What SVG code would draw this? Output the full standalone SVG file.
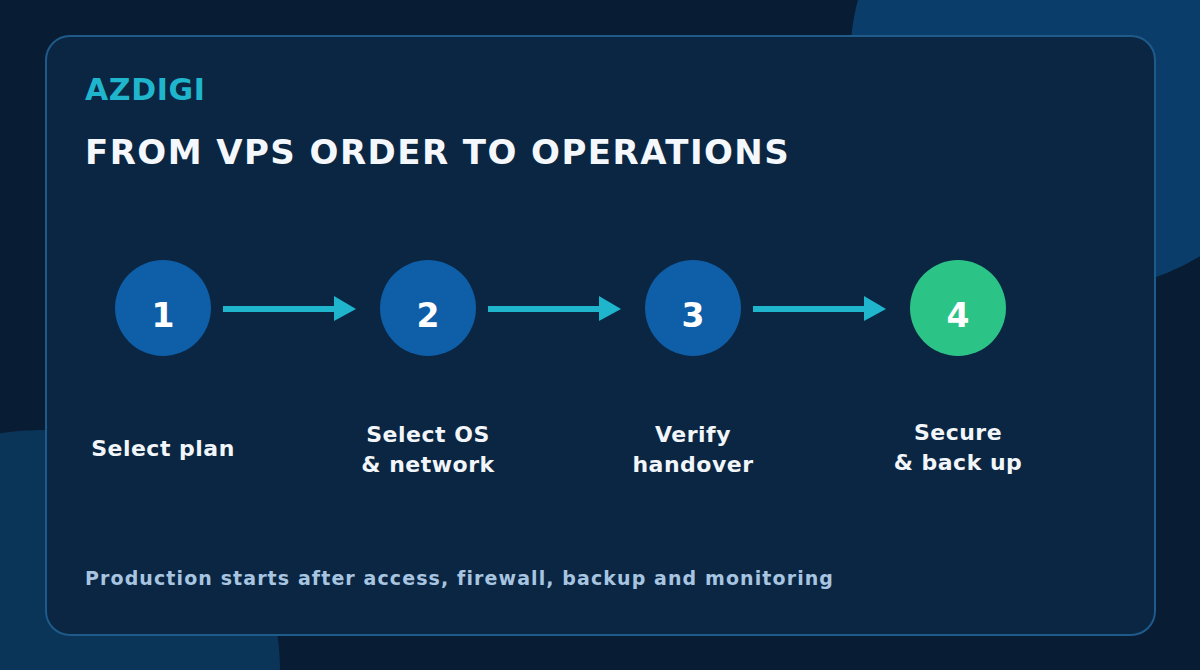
<svg xmlns="http://www.w3.org/2000/svg" width="1200" height="670" viewBox="0 0 1200 670">
  <style>
    .t { font-family: "DejaVu Sans", "Liberation Sans", sans-serif; font-weight: bold; }
    .brand { font-size: 30px; fill: #1fb5cc; letter-spacing: 0.6px; }
    .title { font-size: 34px; fill: #f4f8fc; letter-spacing: 1.45px; }
    .num { font-size: 33px; fill: #ffffff; text-anchor: middle; }
    .lbl { font-size: 22px; fill: #f2f6fa; text-anchor: middle; letter-spacing: 0.5px; }
    .foot { font-size: 19px; fill: #a7c5e0; letter-spacing: 1.1px; }
    .step { fill: #0e5ea8; }
    .final { fill: #2bc486; }
    .conn line { stroke: #1fb5cc; stroke-width: 6; }
    .conn polygon { fill: #1fb5cc; }
  </style>
  <rect x="0" y="0" width="1200" height="670" fill="#081c33"/>
  <circle cx="1080" cy="60" r="230" fill="#0b3d6b"/>
  <circle cx="40" cy="670" r="240" fill="#0b3459"/>
  <rect x="46" y="36" width="1109" height="599" rx="24" fill="#0a2642" stroke="#1e5a8a" stroke-width="2"/>

  <text class="t brand" x="85" y="100">AZDIGI</text>
  <text class="t title" x="85" y="164">FROM VPS ORDER TO OPERATIONS</text>

  <g class="conn" id="connectors">
    <line x1="223" y1="309" x2="350" y2="309"/>
    <polygon points="334,296 356,309 334,321"/>
    <line x1="488" y1="309" x2="615" y2="309"/>
    <polygon points="599,296 621,309 599,321"/>
    <line x1="753" y1="309" x2="880" y2="309"/>
    <polygon points="864,296 886,309 864,321"/>
  </g>

  <g id="step1">
    <circle class="step" cx="163" cy="308" r="48"/>
    <text class="t num" x="163" y="327">1</text>
    <text class="t lbl" x="163" y="456">Select plan</text>
  </g>
  <g id="step2">
    <circle class="step" cx="428" cy="308" r="48"/>
    <text class="t num" x="428" y="327">2</text>
    <text class="t lbl" x="428" y="442">Select OS</text>
    <text class="t lbl" x="428" y="472">&amp; network</text>
  </g>
  <g id="step3">
    <circle class="step" cx="693" cy="308" r="48"/>
    <text class="t num" x="693" y="327">3</text>
    <text class="t lbl" x="693" y="442">Verify</text>
    <text class="t lbl" x="693" y="472">handover</text>
  </g>
  <g id="step4">
    <circle class="final" cx="958" cy="308" r="48"/>
    <text class="t num" x="958" y="327">4</text>
    <text class="t lbl" x="958" y="440">Secure</text>
    <text class="t lbl" x="958" y="470">&amp; back up</text>
  </g>

  <text class="t foot" x="85" y="585">Production starts after access, firewall, backup and monitoring</text>
</svg>
